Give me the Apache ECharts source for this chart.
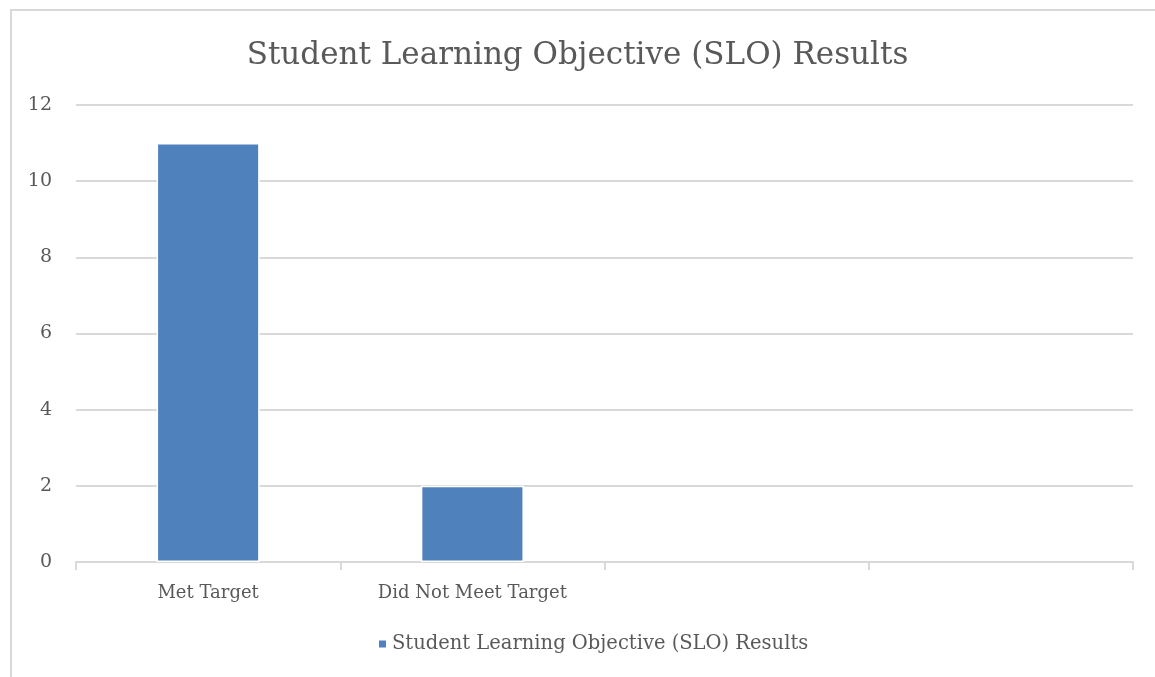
<!DOCTYPE html>
<html>
<head>
<meta charset="utf-8">
<script src="https://cdn.jsdelivr.net/npm/echarts@6/dist/echarts.min.js"></script>
<style>
  html, body { margin: 0; padding: 0; background: #fff; }
  #frame { position: absolute; left: 10px; top: 9px; width: 1160px; height: 680px;
           border-left: 2px solid #d9d9d9; border-top: 2px solid #d9d9d9; }
  #main { position: absolute; left: 0; top: 0; width: 1155px; height: 677px; }
</style>
</head>
<body>
<div id="frame"></div>
<div id="main"></div>
<script>
let categories = ["Met Target", "Did Not Meet Target", "", ""]
let sloResults = [11, 2, null, null]
let seriesName = "Student Learning Objective (SLO) Results"

let font = "'DejaVu Serif', serif"
let textColor = "#595959"

var myChart = echarts.init(document.getElementById('main'))

var option = {
  title: {
    text: seriesName,
    left: 'center',
    top: 35,
    textStyle: { fontFamily: font, fontSize: 31, fontWeight: 'normal', color: textColor }
  },
  legend: {
    bottom: 18,
    left: 372,
    itemWidth: 9,
    itemHeight: 9,
    icon: 'rect',
    itemGap: 7,
    textStyle: { fontFamily: font, fontSize: 19.5, color: textColor },
    data: [seriesName]
  },
  grid: { left: 76, right: 22, top: 105, bottom: 115 },
  xAxis: {
    type: 'category',
    data: categories,
    axisLine: { lineStyle: { color: '#d9d9d9', width: 2 } },
    axisTick: { show: true, length: 8, lineStyle: { color: '#d9d9d9', width: 2 } },
    axisLabel: { fontFamily: font, fontSize: 18, color: textColor, margin: 22 }
  },
  yAxis: {
    type: 'value',
    min: 0,
    max: 12,
    interval: 2,
    axisLine: { show: false },
    axisTick: { show: false },
    axisLabel: { fontFamily: font, fontSize: 19, color: textColor, margin: 24 },
    splitLine: { lineStyle: { color: '#d9d9d9', width: 2 } }
  },
  series: [{
    name: seriesName,
    type: 'bar',
    data: sloResults,
    barWidth: '39%',
    itemStyle: { color: '#4f81bd', borderColor: '#fff', borderWidth: 1.5 }
  }]
}

myChart.setOption(option)
</script>
</body>
</html>
